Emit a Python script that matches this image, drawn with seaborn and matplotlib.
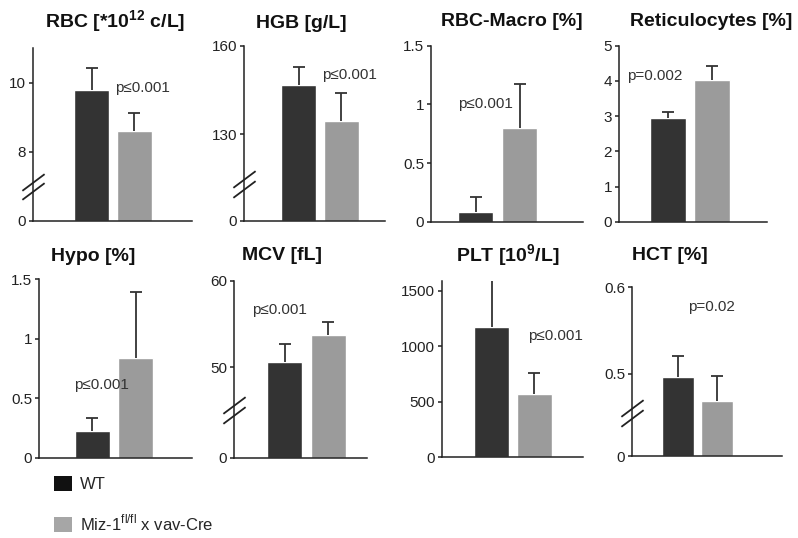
import matplotlib
matplotlib.use("Agg")
import matplotlib.pyplot as plt
import matplotlib.transforms as mtransforms
from matplotlib.patches import Patch
import numpy as np
import pandas as pd
import seaborn as sns

# data (mean and upper error)
groups = ["WT", "Miz"]
legend_labels = ["WT", r"Miz-1$^{\mathrm{fl/fl}}$ x vav-Cre"]

rbc_mean = [9.80, 8.61]
rbc_err = [0.63, 0.51]
hgb_mean = [146.7, 134.5]
hgb_err = [6.2, 9.4]
macro_mean = [0.085, 0.80]
macro_err = [0.125, 0.37]
retic_mean = [2.94, 4.03]
retic_err = [0.17, 0.40]
hypo_mean = [0.225, 0.84]
hypo_err = [0.105, 0.55]
mcv_mean = [50.6, 53.7]
mcv_err = [2.1, 1.6]
plt_mean = [1172, 568]
plt_err = [420, 195]
hct_mean = [0.496, 0.469]
hct_err = [0.025, 0.029]

titles = [r"RBC [*10$^{\mathbf{12}}$ c/L]", "HGB [g/L]", "RBC-Macro [%]", "Reticulocytes [%]",
          "Hypo [%]", "MCV [fL]", r"PLT [10$^{\mathbf{9}}$/L]", "HCT [%]"]
pvals = ["p≤0.001", "p≤0.001", "p≤0.001", "p=0.002",
         "p≤0.001", "p≤0.001", "p≤0.001", "p=0.02"]
ticks = [[0, 8, 10], [0, 130, 160], [0, 0.5, 1, 1.5], [0, 1, 2, 3, 4, 5],
         [0, 0.5, 1, 1.5], [0, 50, 60], [0, 500, 1000, 1500], [0, 0.5, 0.6]]
tick_labels = [["0", "8", "10"], ["0", "130", "160"], ["0", "0.5", "1", "1.5"],
               ["0", "1", "2", "3", "4", "5"], ["0", "0.5", "1", "1.5"],
               ["0", "50", "60"], ["0", "500", "1000", "1500"], ["0", "0.5", "0.6"]]

means = [rbc_mean, hgb_mean, macro_mean, retic_mean, hypo_mean, mcv_mean, plt_mean, hct_mean]
errs = [rbc_err, hgb_err, macro_err, retic_err, hypo_err, mcv_err, plt_err, hct_err]

# layout in pixels: axis left, axis right, x-axis y, top y, ymax, WT centre, Miz centre, bar width
layout = [
    (33, 192, 221, 48, 11.0, 91.5, 134, 35),
    (244, 385, 221, 45.7, 160, 298.5, 341, 35),
    (431, 583, 221.7, 45.7, 1.5, 475.5, 519.5, 35),
    (619, 767, 221.7, 45.7, 5, 668, 712, 36),
    (39, 192, 457.7, 279.3, 1.5, 92, 135.5, 35),
    (234, 367, 457.7, 281, 60, 284.5, 328, 35),
    (442, 583, 457.3, 280.7, 1590, 491.5, 534, 35),
    (632, 782, 456, 287.3, 0.6, 678, 717, 32),
]
# broken axes: (value where break sits, compressed height of 0..lo in data units)
breaks = [(7, 1.0), (113, 12.5), None, None, None, (45, 5.5), None, (0.455, 0.05)]
# title centres (px) and p-value anchors (category x, y value)
title_pos = [(115, 22), (301, 23), (512, 22), (711, 22),
             (93, 257), (282, 256), (508, 256), (670, 256)]
p_pos = [(0.56, 9.83), (0.55, 150), (-0.4, 1.0), (-0.93, 4.14),
         (-0.42, 0.61), (-0.75, 56.6), (0.85, 1094), (0.25, 0.577)]

W, H = 798, 538
dark = "#333333"
light = "#9b9b9b"

sns.set_style("ticks")
plt.rcParams["font.family"] = ["Liberation Sans", "DejaVu Sans"]
plt.rcParams["mathtext.fontset"] = "custom"
plt.rcParams["mathtext.rm"] = "Liberation Sans"
plt.rcParams["mathtext.bf"] = "Liberation Sans:bold"
plt.rcParams["axes.linewidth"] = 1.1
plt.rcParams["axes.edgecolor"] = "#222222"

fig = plt.figure(figsize=(W / 100, H / 100), dpi=100)


def make_funcs(lo, g):
    def fwd(v):
        v = np.asarray(v, dtype=float)
        return np.where(v < lo, v / lo * g, g + (v - lo))

    def inv(u):
        u = np.asarray(u, dtype=float)
        return np.where(u < g, u / g * lo, lo + (u - g))
    return fwd, inv


for i in range(8):
    left, right, bot, top, ymax, c0, c1, bw = layout[i]
    ax = fig.add_axes([left / W, 1 - bot / H, (right - left) / W, (bot - top) / H])
    d = c1 - c0
    df = pd.DataFrame({"group": groups, "value": means[i]})
    sns.barplot(data=df, x="group", y="value", hue="group", palette=[dark, light],
                width=bw / d, errorbar=None, legend=False, ax=ax, saturation=1)
    eb = ax.errorbar([0, 1], means[i], yerr=[[0, 0], errs[i]], fmt="none", ecolor=dark,
                     elinewidth=1.3, capsize=4, capthick=1.3, zorder=1)
    # only the upper cap is drawn in the original
    eb[1][0].set_visible(False)

    if breaks[i] is not None:
        lo, g = breaks[i]
        fwd, inv = make_funcs(lo, g)
        ax.set_yscale("function", functions=(fwd, inv))
    ax.set_ylim(0, ymax)
    ax.set_xlim((left - c0) / d, (right - c0) / d)
    ax.set_yticks(ticks[i])
    ax.set_yticklabels(tick_labels[i])
    ax.minorticks_off()
    ax.set_xticks([])
    ax.set_xlabel("")
    ax.set_ylabel("")
    ax.tick_params(axis="y", length=3, width=1.1, labelsize=11, colors="#222222", pad=2)
    sns.despine(ax=ax)

    ax.text(p_pos[i][0], p_pos[i][1], pvals[i], fontsize=11, color="#333333",
            ha="left", va="center")

    if breaks[i] is not None:
        trans = mtransforms.blended_transform_factory(ax.transAxes, ax.transData)
        for dy in (-3.5, 3.5):
            t = mtransforms.offset_copy(trans, fig=fig, x=0, y=dy, units="points")
            ax.plot([0], [breaks[i][0]], marker=[(-1, -0.75), (1, 0.75)], markersize=16,
                    markeredgewidth=1.3, color="#222222", transform=t, clip_on=False,
                    zorder=5)

    fig.text(title_pos[i][0] / W, 1 - title_pos[i][1] / H, titles[i], fontsize=14,
             fontweight="bold", ha="center", va="center", color="#111111")

handles = [Patch(facecolor="#111111", edgecolor="none"),
           Patch(facecolor="#a6a6a6", edgecolor="none")]
fig.legend(handles, legend_labels, loc="upper left", bbox_to_anchor=(54 / W, 1 - 476 / H),
           frameon=False, fontsize=12, handlelength=1.05, handleheight=1.05,
           handletextpad=0.5, labelspacing=1.2, borderpad=0, borderaxespad=0)

fig.savefig("out.png", dpi=100)
plt.close(fig)
